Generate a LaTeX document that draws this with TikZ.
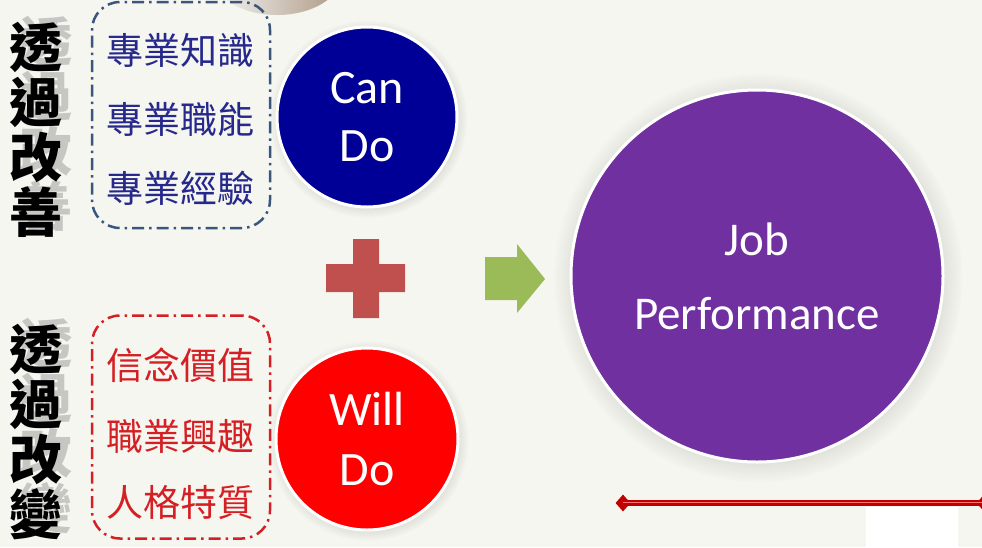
\documentclass[tikz,border=0pt]{standalone}
\usepackage{fontspec}
\setmainfont{Carlito}
\newfontfamily\cjk{Noto Sans CJK TC}
\usepackage{tikz}
\usetikzlibrary{shapes,shadows,calc}

\definecolor{paper}{RGB}{246,246,240}
\definecolor{candark}{RGB}{0,0,150}
\definecolor{willred}{RGB}{255,0,0}
\definecolor{jobpurple}{RGB}{112,48,160}
\definecolor{boxblue}{RGB}{58,86,124}
\definecolor{txtblue}{RGB}{38,40,140}
\definecolor{txtred}{RGB}{212,32,36}
\definecolor{plusred}{RGB}{192,80,77}
\definecolor{arrowgreen}{RGB}{155,187,89}
\definecolor{barred}{RGB}{192,0,0}

\tikzset{
	dashbox/.style={draw=#1, line width=2.5pt, rounded corners=28pt, inner sep=0pt,
		dash pattern=on 12pt off 5pt on 2.5pt off 5pt, minimum width=178pt},
	ball/.style={circle, fill=#1, draw=white, line width=3pt, inner sep=0pt,
		text=white, align=center, circular drop shadow={shadow xshift=1pt, shadow yshift=-1.5pt, opacity=0.25}},
	listtxt/.style={text=#1, font=\cjk\fontsize{37}{40}\selectfont, inner sep=0pt},
	sidetxt/.style={font=\cjk\bfseries\fontsize{53}{55}\selectfont, align=center, inner sep=0pt}
}

\begin{document}
\begin{tikzpicture}[x=1pt, y=-1pt]
	\useasboundingbox (0,0) rectangle (982,547);
	\clip (0,0) rectangle (982,547);
	\fill[paper] (0,0) rectangle (982,547);

	% grey curl at the top
	\shade[left color=white!92!gray, right color=gray!60!brown!80!white] (277,-24) ellipse [x radius=64, y radius=39];

	% side labels with their soft shadow
	\node[sidetxt, text=gray, opacity=0.4] at (46,124) {透\\過\\改\\善};
	\node[sidetxt, text=gray, opacity=0.4] at (46,426) {透\\過\\改\\變};
	\node[sidetxt] (improve) at (36,130) {透\\過\\改\\善};
	\node[sidetxt] (change) at (36,432) {透\\過\\改\\變};

	% the two dashed boxes and their lists
	\node[dashbox=boxblue, minimum height=226pt] (canbox) at (181,115) {};
	\node[dashbox=txtred, minimum height=223pt] (willbox) at (181,427) {};
	\foreach \i/\y/\t in {1/50/專業知識, 2/119/專業職能, 3/188/專業經驗}
		\node[listtxt=txtblue] (skill\i) at (180,\y) {\t};
	\foreach \i/\y/\t in {1/365/信念價值, 2/436/職業興趣, 3/503/人格特質}
		\node[listtxt=txtred] (trait\i) at (180,\y) {\t};

	% circles
	\node[ball=candark, minimum size=180pt, font=\fontsize{48}{58}\selectfont] (can) at (367,117) {Can\\Do};
	\node[ball=willred, minimum size=182pt, font=\fontsize{48}{60}\selectfont] (will) at (367,439) {Will\\Do};
	\node[ball=jobpurple, minimum size=372pt, font=\fontsize{47}{74}\selectfont] (job) at (757,276) {Job\\Performance};

	% plus and arrow
	\fill[plusred] (353,239) -- (379,239) -- (379,264) -- (405,264) -- (405,292) -- (379,292)
		-- (379,318) -- (353,318) -- (353,292) -- (326,292) -- (326,264) -- (353,264) -- cycle;
	\fill[arrowgreen] (485,257) -- (517,257) -- (517,244) -- (545,279) -- (517,313) -- (517,300) -- (485,300) -- cycle;

	% red bar with diamond ends
	\node[diamond, fill=barred, minimum width=15pt, minimum height=17pt, inner sep=0pt] (barL) at (623,503) {};
	\node[diamond, fill=barred, minimum width=15pt, minimum height=17pt, inner sep=0pt] (barR) at (984,503) {};
	\draw[barred, line width=6pt] (barL.center) -- (barR.center);
	\draw[red!55!white, line width=1pt] ($(barL.center)+(0,-1)$) -- ($(barR.center)+(0,-1)$);

	\fill[white] (866,507) rectangle (958,547);
\end{tikzpicture}
\end{document}
